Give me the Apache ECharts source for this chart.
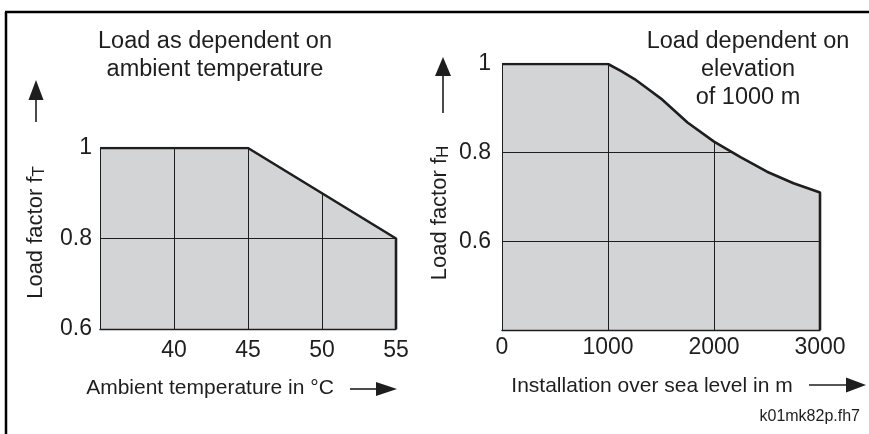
<!DOCTYPE html>
<html lang="en">
<head>
    <meta charset="UTF-8">
    <title>Load factor</title>
    <style>
        html, body { margin: 0; padding: 0; background: #fff; }
        #main { width: 869px; height: 434px; }
    </style>
</head>
<body>
<div id="main"></div>
<script src="https://cdn.jsdelivr.net/npm/echarts@6/dist/echarts.min.js"></script>
<script>
    // left: load factor fT against ambient temperature
    var tempX = [35, 45, 55];
    var tempFactor = [1, 1, 0.8];
    var tempTicks = [40, 45, 50, 55];

    // right: load factor fH against installation height
    var heightX = [0, 1000, 1125, 1250, 1375, 1500, 1750, 2000, 2250, 2500, 2750, 3000];
    var heightFactor = [1, 1, 0.984, 0.966, 0.944, 0.922, 0.868, 0.825, 0.79, 0.757, 0.731, 0.71];
    var heightTicks = [0, 1000, 2000, 3000];

    var FONT = 'Liberation Sans, Arial, sans-serif';
    var INK = '#1e1e1e';
    var FILL = '#d3d4d6';

    // points plus a closing point down to the axis floor, so the right edge is drawn thick
    function pairs(xs, ys, floor) {
        var d = xs.map(function (x, i) { return [x, ys[i]]; });
        d.push([xs[xs.length - 1], floor]);
        return d;
    }

    function arrow(x1, y1, x2, y2, len, half) {
        var dx = x2 - x1, dy = y2 - y1;
        var l = Math.sqrt(dx * dx + dy * dy);
        var ux = dx / l, uy = dy / l;
        var bx = x2 - ux * len, by = y2 - uy * len;
        return [
            {type: 'line', shape: {x1: x1, y1: y1, x2: bx, y2: by}, style: {stroke: INK, lineWidth: 1.6}},
            {type: 'polygon', shape: {points: [[x2, y2], [bx - uy * half, by + ux * half], [bx + uy * half, by - ux * half]]},
                style: {fill: INK}}
        ];
    }

    function yLabel(v) {
        return String(+v.toFixed(1));
    }

    function tickFilter(list) {
        return function (v) {
            return list.indexOf(Math.round(v)) >= 0 ? String(Math.round(v)) : '';
        };
    }

    var nameStyle = {
        fontSize: 21, fontFamily: FONT, color: INK
    };
    var subRich = {
        sub: {fontSize: 17, fontFamily: FONT, color: INK, lineHeight: 17, verticalAlign: 'bottom'}
    };

    var chart = echarts.init(document.getElementById('main'));
    var option = {
        animation: false,
        backgroundColor: '#fff',
        textStyle: {fontFamily: FONT},
        title: [
            {
                text: 'Load as dependent on\nambient temperature',
                left: 215, top: 28, padding: 0, textAlign: 'center',
                textStyle: {fontSize: 23.5, lineHeight: 28, fontWeight: 'normal', color: INK, fontFamily: FONT}
            },
            {
                text: 'Load dependent on\nelevation\nof 1000 m',
                left: 748, top: 28, padding: 0, textAlign: 'center',
                textStyle: {fontSize: 23.5, lineHeight: 28, fontWeight: 'normal', color: INK, fontFamily: FONT}
            }
        ],
        grid: [
            {left: 100, right: 473, top: 148, bottom: 105},
            {left: 502, right: 49, top: 64, bottom: 104}
        ],
        xAxis: [
            {
                gridIndex: 0, type: 'value', min: 35, max: 55, interval: 5, z: 2,
                name: 'Ambient temperature in °C', nameLocation: 'middle', nameGap: 49,
                nameTextStyle: Object.assign({padding: [0, 76, 0, 0]}, nameStyle),
                axisLine: {show: true, lineStyle: {color: INK, width: 1.4}},
                axisTick: {show: false},
                axisLabel: {margin: 10, fontSize: 23, color: INK, fontFamily: FONT, showMinLabel: false,
                    formatter: tickFilter(tempTicks)},
                splitLine: {show: true, showMinLine: false, showMaxLine: false, lineStyle: {color: INK, width: 1}}
            },
            {
                gridIndex: 1, type: 'value', min: 0, max: 3000, interval: 1000, z: 2,
                name: 'Installation over sea level in m', nameLocation: 'middle', nameGap: 46,
                nameTextStyle: Object.assign({padding: [0, 18, 0, 0]}, nameStyle),
                axisLine: {show: true, lineStyle: {color: INK, width: 1.4}},
                axisTick: {show: false},
                axisLabel: {margin: 6, fontSize: 23, color: INK, fontFamily: FONT,
                    formatter: tickFilter(heightTicks)},
                splitLine: {show: true, showMinLine: false, showMaxLine: false, lineStyle: {color: INK, width: 1}}
            }
        ],
        yAxis: [
            {
                gridIndex: 0, type: 'value', min: 0.6, max: 1, interval: 0.2, z: 2,
                name: 'Load factor f{sub|T}', nameLocation: 'middle', nameGap: 52, nameRotate: 90,
                nameTextStyle: Object.assign({padding: [0, 0, 0, 12], lineHeight: 24, rich: subRich},
                    nameStyle, {fontSize: 22}),
                axisLine: {show: true, lineStyle: {color: INK, width: 1}},
                axisTick: {show: false},
                axisLabel: {margin: 8, fontSize: 23, color: INK, fontFamily: FONT, formatter: yLabel},
                splitLine: {show: true, showMinLine: false, showMaxLine: false, lineStyle: {color: INK, width: 1}}
            },
            {
                gridIndex: 1, type: 'value', min: 0.4, max: 1, interval: 0.2, z: 2,
                name: 'Load factor f{sub|H}', nameLocation: 'middle', nameGap: 50, nameRotate: 90,
                nameTextStyle: Object.assign({padding: [0, 32, 0, 0], lineHeight: 24, rich: subRich},
                    nameStyle, {fontSize: 22}),
                axisLine: {show: true, lineStyle: {color: INK, width: 1}},
                axisTick: {show: false},
                axisLabel: {margin: 11, fontSize: 23, color: INK, fontFamily: FONT, showMinLabel: false,
                    formatter: yLabel},
                splitLine: {show: true, showMinLine: false, showMaxLine: false, lineStyle: {color: INK, width: 1}}
            }
        ],
        series: [
            // grey fill under the curve (below the grid lines)
            {
                type: 'line', xAxisIndex: 0, yAxisIndex: 0, z: 1, symbol: 'none', silent: true,
                data: pairs(tempX, tempFactor, 0.6),
                lineStyle: {opacity: 0},
                areaStyle: {color: FILL, opacity: 1, origin: 'start'}
            },
            // white above the curve hides grid lines there, plus the thick outline
            {
                type: 'line', xAxisIndex: 0, yAxisIndex: 0, z: 3, symbol: 'none', silent: true,
                data: pairs(tempX, tempFactor, 0.6),
                lineStyle: {color: INK, width: 2.6},
                areaStyle: {color: '#fff', opacity: 1, origin: 'end'}
            },
            {
                type: 'line', xAxisIndex: 1, yAxisIndex: 1, z: 1, symbol: 'none', silent: true,
                data: pairs(heightX, heightFactor, 0.4),
                lineStyle: {opacity: 0},
                areaStyle: {color: FILL, opacity: 1, origin: 'start'}
            },
            {
                type: 'line', xAxisIndex: 1, yAxisIndex: 1, z: 3, symbol: 'none', silent: true,
                data: pairs(heightX, heightFactor, 0.4),
                lineStyle: {color: INK, width: 2.6},
                areaStyle: {color: '#fff', opacity: 1, origin: 'end'}
            }
        ],
        graphic: [
            {type: 'line', shape: {x1: 5, y1: 12, x2: 869, y2: 12}, style: {stroke: '#000', lineWidth: 2.5}},
            {type: 'line', shape: {x1: 6, y1: 12, x2: 6, y2: 434}, style: {stroke: '#000', lineWidth: 2.5}},
            {
                type: 'text', x: 860, y: 417,
                style: {text: 'k01mk82p.fh7', fontSize: 16, fontFamily: FONT, fill: INK, align: 'right', verticalAlign: 'middle'}
            }
        ]
            .concat(arrow(36, 122, 36, 80, 20, 7.5))
            .concat(arrow(443, 113, 443, 57, 19, 8))
            .concat(arrow(350, 389, 397, 389, 21, 7))
            .concat(arrow(809, 385, 866, 385, 20, 7.5))
    };
    chart.setOption(option);
</script>
</body>
</html>
